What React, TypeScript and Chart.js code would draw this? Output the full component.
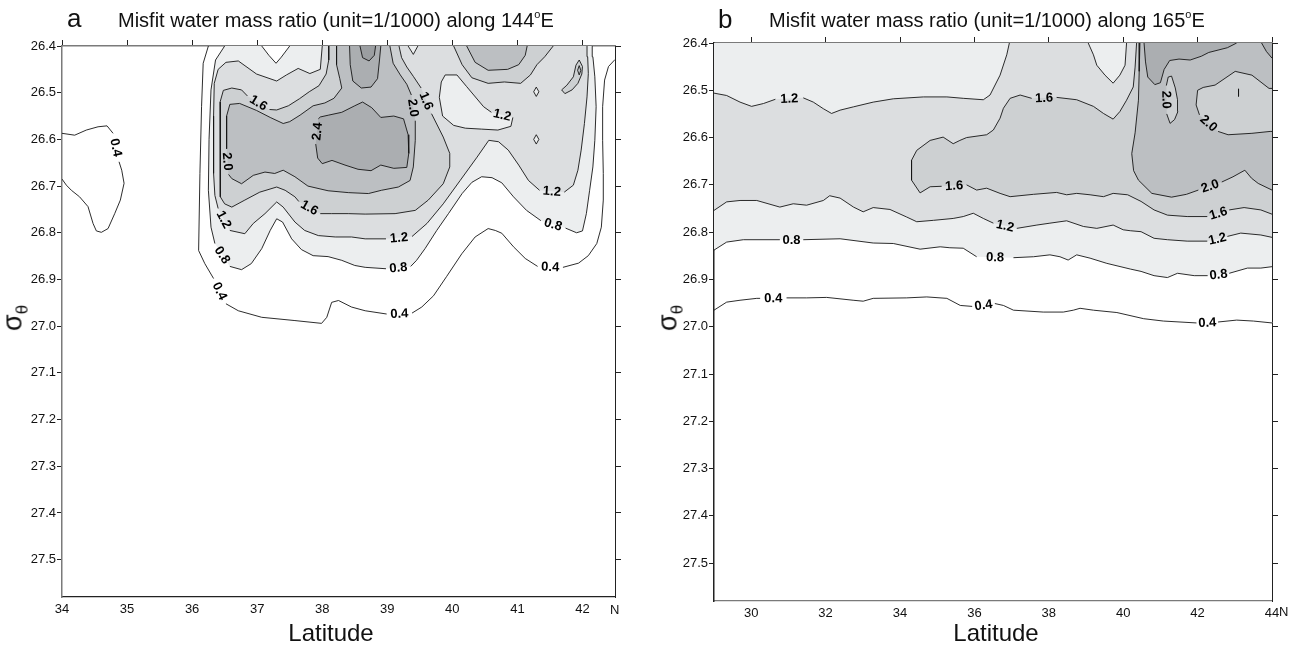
import React, { useEffect, useRef } from "react";
import { Chart, registerables } from "chart.js";

Chart.register(...registerables);

type Pt = [number, number] | null;

const FONT = '"Liberation Sans", Arial, Helvetica, sans-serif';

// ---------------- axes ----------------
const sigmaMin = 26.4;
const sigmaMax = 27.58;
const sigmaTicks = [26.4, 26.5, 26.6, 26.7, 26.8, 26.9, 27.0, 27.1, 27.2, 27.3, 27.4, 27.5];
const aLatMin = 34;
const aLatMax = 42.5;
const aLatTicks = [34, 35, 36, 37, 38, 39, 40, 41, 42];
const bLatMin = 29;
const bLatMax = 44;
const bLatTicks = [30, 32, 34, 36, 38, 40, 42, 44];

// ---------------- shading per contour interval ----------------
const C08 = "#eceeef";
const C12 = "#dcdee0";
const C16 = "#cdd0d2";
const C20 = "#bcbfc2";
const C24 = "#abaeb1";
const C28 = "#9b9ea1";
const CW = "#ffffff";

// ---------------- panel a: 144E contours [lat, sigma]; null = label gap ----------------
const a04Left: Pt[] = [[34.0, 26.587], [34.195, 26.591], [34.374, 26.58], [34.554, 26.573], [34.692, 26.571], [34.785, 26.587], null, [34.877, 26.648], [34.918, 26.666], [34.954, 26.694], [34.897, 26.73], [34.81, 26.759], [34.708, 26.791], [34.605, 26.799], [34.528, 26.796], [34.477, 26.78], [34.4, 26.744], [34.27, 26.723], [34.144, 26.709], [34.067, 26.698], [34.0, 26.685]];
const a04Main: Pt[] = [[36.25, 26.4], [36.17, 26.437], [36.145, 26.53], [36.12, 26.673], [36.1, 26.838], [36.195, 26.866], [36.33, 26.898], null, [36.52, 26.952], [36.71, 26.967], [37.07, 26.981], [37.58, 26.988], [37.99, 26.994], [38.07, 26.981], [38.145, 26.949], [38.25, 26.945], [38.45, 26.959], [38.66, 26.967], [38.99, 26.974], null, [39.38, 26.972], [39.53, 26.959], [39.71, 26.935], [39.91, 26.894], [40.145, 26.845], [40.35, 26.809], [40.55, 26.791], [40.66, 26.795], [40.76, 26.801], [40.94, 26.83], [41.12, 26.855], [41.31, 26.872], null, [41.7, 26.874], [41.94, 26.865], [42.09, 26.849], [42.22, 26.823], [42.29, 26.788], [42.32, 26.73], [42.32, 26.673], [42.31, 26.602], [42.31, 26.53], [42.34, 26.473], [42.4, 26.444], [42.48, 26.432], [42.5, 26.429]];
const a08Main: Pt[] = [[36.5, 26.4], [36.36, 26.43], [36.29, 26.494], [36.26, 26.6], [36.25, 26.709], [36.29, 26.788], [36.35, 26.823], null, [36.58, 26.872], [36.76, 26.879], [36.91, 26.866], [37.07, 26.834], [37.2, 26.795], [37.3, 26.77], [37.39, 26.777], [37.53, 26.813], [37.68, 26.836], [37.86, 26.849], [38.09, 26.851], [38.3, 26.859], [38.5, 26.87], [38.66, 26.874], [38.98, 26.877], null, [39.36, 26.872], [39.45, 26.859], [39.58, 26.834], [39.76, 26.795], [39.94, 26.759], [40.15, 26.716], [40.3, 26.692], [40.45, 26.68], [40.61, 26.682], [40.76, 26.693], [40.94, 26.723], [41.14, 26.752], [41.36, 26.774], null, [41.74, 26.79], [41.91, 26.8], [42.0, 26.796], [42.06, 26.759], [42.11, 26.709], [42.16, 26.659], [42.19, 26.602], [42.21, 26.53], [42.19, 26.466], [42.16, 26.423], [42.15, 26.4]];
const a08Notch: Pt[] = [[37.07, 26.4], [37.18, 26.42], [37.29, 26.437], [37.37, 26.424], [37.5, 26.4]];
const a12Main: Pt[] = [[38.0, 26.4], [37.97, 26.45], [37.81, 26.459], [37.63, 26.448], [37.45, 26.462], [37.3, 26.475], [36.99, 26.46], [36.71, 26.432], [36.52, 26.435], [36.4, 26.45], [36.34, 26.48], [36.33, 26.55], [36.33, 26.673], [36.35, 26.72], [36.4, 26.748], null, [36.58, 26.795], [36.81, 26.802], [36.94, 26.78], [37.12, 26.759], [37.3, 26.734], [37.4, 26.745], [37.58, 26.777], [37.73, 26.795], [37.94, 26.806], [38.2, 26.809], [38.45, 26.809], [38.66, 26.813], [38.98, 26.813], null, [39.38, 26.808], [39.61, 26.78], [39.86, 26.738], [40.12, 26.688], [40.38, 26.638], [40.56, 26.602], [40.71, 26.605], [40.86, 26.623], [41.02, 26.655], [41.17, 26.688], [41.34, 26.709], null, [41.72, 26.713], [41.86, 26.698], [41.93, 26.666], [41.98, 26.623], [42.03, 26.566], [42.07, 26.509], [42.09, 26.459], [42.08, 26.423], [42.07, 26.4]];
const a12Hole: Pt[] = [[39.89, 26.462], [40.07, 26.462], [40.22, 26.487], [40.48, 26.53], [40.6, 26.542], null, [40.93, 26.553], [40.9, 26.572], [40.7, 26.58], [40.45, 26.578], [40.2, 26.576], [40.02, 26.57], [39.85, 26.55], [39.8, 26.51], [39.83, 26.477], [39.89, 26.462]];
const a12Notch: Pt[] = [[39.32, 26.4], [39.4, 26.418], [39.47, 26.4]];
const a12Dia1: Pt[] = [[41.29, 26.488], [41.33, 26.498], [41.29, 26.508], [41.25, 26.498], [41.29, 26.488]];
const a12Dia2: Pt[] = [[41.29, 26.59], [41.33, 26.6], [41.29, 26.61], [41.25, 26.6], [41.29, 26.59]];
const a16Main: Pt[] = [[38.1, 26.4], [38.1, 26.43], [38.06, 26.46], [37.95, 26.485], [37.8, 26.498], [37.65, 26.513], [37.48, 26.528], [37.3, 26.537], [37.19, 26.536], null, [36.85, 26.507], [36.76, 26.494], [36.61, 26.49], [36.48, 26.495], [36.43, 26.52], [36.43, 26.56], [36.43, 26.673], [36.44, 26.723], [36.5, 26.738], [36.61, 26.745], [36.81, 26.73], [37.04, 26.713], [37.3, 26.702], [37.43, 26.709], [37.58, 26.723], [37.64, 26.733], null, [37.97, 26.759], [38.14, 26.759], [38.4, 26.759], [38.66, 26.76], [39.12, 26.759], [39.43, 26.752], [39.63, 26.73], [39.86, 26.695], [39.96, 26.659], [39.96, 26.63], [39.86, 26.595], [39.68, 26.545], null, [39.52, 26.49], [39.4, 26.465], [39.3, 26.445], [39.22, 26.425], [39.18, 26.4]];
const a16Ur: Pt[] = [[40.02, 26.4], [40.15, 26.44], [40.3, 26.468], [40.55, 26.48], [40.8, 26.477], [41.05, 26.48], [41.2, 26.462], [41.3, 26.44], [41.42, 26.423], [41.55, 26.4]];
const a16Blob: Pt[] = [[41.95, 26.43], [42.0, 26.444], [41.99, 26.46], [41.93, 26.48], [41.84, 26.494], [41.73, 26.502], [41.68, 26.494], [41.76, 26.484], [41.86, 26.466], [41.9, 26.441], [41.95, 26.43]];
const a20Main: Pt[] = [[38.22, 26.4], [38.22, 26.44], [38.27, 26.47], [38.3, 26.49], [38.18, 26.512], [38.04, 26.522], [37.86, 26.528], [37.66, 26.548], [37.5, 26.562], [37.4, 26.566], [37.2, 26.553], [36.99, 26.538], [36.73, 26.523], [36.58, 26.525], [36.53, 26.55], [36.53, 26.62], null, [36.56, 26.675], [36.61, 26.684], [36.76, 26.695], [36.94, 26.677], [37.12, 26.67], [37.27, 26.673], [37.4, 26.666], [37.58, 26.68], [37.78, 26.7], [38.09, 26.71], [38.4, 26.714], [38.71, 26.716], [38.91, 26.709], [39.17, 26.702], [39.35, 26.688], [39.4, 26.659], [39.43, 26.602], [39.43, 26.56], null, [39.37, 26.505], [39.3, 26.482], [39.2, 26.462], [39.09, 26.437], [39.04, 26.4]];
const a20Ur: Pt[] = [[40.22, 26.4], [40.35, 26.435], [40.55, 26.452], [40.85, 26.45], [41.02, 26.44], [41.12, 26.42], [41.15, 26.4]];
const a20Dia: Pt[] = [[41.95, 26.442], [41.975, 26.452], [41.95, 26.462], [41.925, 26.452], [41.95, 26.442]];
const a24Main: Pt[] = [[37.94, 26.556], [37.97, 26.552], [38.1, 26.548], [38.3, 26.542], [38.5, 26.528], [38.62, 26.52], [38.76, 26.532], [38.9, 26.553], [39.1, 26.55], [39.25, 26.556], [39.32, 26.59], [39.33, 26.63], [39.3, 26.66], [39.1, 26.662], [38.9, 26.655], [38.75, 26.667], [38.55, 26.664], [38.35, 26.655], [38.15, 26.645], [38.0, 26.652], [37.93, 26.64], [37.9, 26.61], null, [37.94, 26.556]];
const a24Col: Pt[] = [[38.42, 26.4], [38.43, 26.44], [38.47, 26.475], [38.6, 26.49], [38.75, 26.488], [38.85, 26.47], [38.88, 26.43], [38.9, 26.4]];
const a28Col: Pt[] = [[38.58, 26.4], [38.62, 26.425], [38.72, 26.432], [38.8, 26.42], [38.82, 26.4]];

// ---------------- panel b: 165E contours ----------------
const b04: Pt[] = [[29.0, 26.965], [29.34, 26.948], [29.7, 26.944], [30.15, 26.94], [30.24, 26.94], null, [30.95, 26.939], [31.49, 26.939], [32.03, 26.938], [32.74, 26.944], [33.01, 26.946], [33.28, 26.94], [34.18, 26.939], [34.72, 26.937], [35.26, 26.94], [35.62, 26.955], [35.94, 26.957], null, [36.55, 26.951], [36.78, 26.955], [37.05, 26.965], [37.85, 26.969], [38.39, 26.969], [38.66, 26.965], [38.84, 26.961], [39.2, 26.965], [39.83, 26.97], [40.55, 26.983], [41.08, 26.988], [41.97, 26.992], null, [42.55, 26.99], [43.05, 26.986], [43.5, 26.988], [44.0, 26.992]];
const b08: Pt[] = [[29.0, 26.838], [29.34, 26.821], [29.79, 26.816], [30.77, 26.816], null, [31.4, 26.816], [32.39, 26.814], [33.28, 26.823], [33.82, 26.824], [34.54, 26.836], [35.08, 26.831], [35.34, 26.833], [35.7, 26.834], [36.06, 26.852], null, [37.05, 26.854], [37.59, 26.852], [38.03, 26.848], [38.3, 26.852], [38.52, 26.859], [38.75, 26.848], [39.11, 26.855], [39.56, 26.866], [40.19, 26.878], [40.48, 26.883], [40.83, 26.892], [41.19, 26.896], [41.46, 26.887], [41.91, 26.892], [42.27, 26.892], null, [42.85, 26.887], [43.34, 26.876], [43.7, 26.876], [44.0, 26.873]];
const b12Low: Pt[] = [[29.0, 26.754], [29.34, 26.736], [29.7, 26.733], [30.15, 26.733], [30.77, 26.747], [31.13, 26.74], [31.49, 26.743], [31.94, 26.733], [32.11, 26.723], [32.39, 26.728], [32.75, 26.747], [33.01, 26.757], [33.28, 26.748], [33.73, 26.752], [34.18, 26.768], [34.45, 26.778], [34.9, 26.775], [35.43, 26.771], [35.7, 26.767], [35.97, 26.76], [36.24, 26.771], [36.51, 26.781], null, [37.14, 26.792], [37.68, 26.785], [38.03, 26.781], [38.48, 26.776], [38.93, 26.788], [39.29, 26.792], [39.73, 26.785], [40.0, 26.795], [40.19, 26.797], [40.48, 26.799], [40.83, 26.813], [41.19, 26.816], [41.72, 26.819], [42.26, 26.819], null, [42.8, 26.809], [43.16, 26.802], [43.7, 26.806], [44.0, 26.811]];
const b12UL: Pt[] = [[29.0, 26.506], [29.34, 26.511], [29.7, 26.525], [30.01, 26.534], [30.33, 26.528], [30.65, 26.519], null, [31.4, 26.516], [31.67, 26.525], [31.94, 26.539], [32.16, 26.549], [32.39, 26.542], [32.75, 26.535], [33.28, 26.525], [33.82, 26.518], [34.63, 26.514], [35.26, 26.514], [35.7, 26.517], [36.24, 26.52], [36.42, 26.51], [36.69, 26.468], [36.87, 26.425], [36.94, 26.4]];
const b12Notch: Pt[] = [[39.06, 26.4], [39.2, 26.425], [39.29, 26.447], [39.51, 26.468], [39.73, 26.485], [39.91, 26.468], [40.05, 26.447], [40.09, 26.4]];
const b16: Pt[] = [[40.36, 26.4], [40.32, 26.451], [40.27, 26.493], [40.09, 26.521], [39.91, 26.545], [39.73, 26.561], [39.47, 26.549], [39.2, 26.534], [38.75, 26.52], [38.21, 26.515], null, [37.54, 26.517], [37.23, 26.51], [36.96, 26.517], [36.78, 26.538], [36.69, 26.559], [36.51, 26.584], [36.33, 26.594], [35.79, 26.6], [35.61, 26.606], [35.43, 26.613], [35.16, 26.599], [34.81, 26.606], [34.45, 26.627], [34.31, 26.648], [34.31, 26.69], [34.54, 26.717], [34.81, 26.704], [35.12, 26.703], null, [35.79, 26.7], [36.06, 26.711], [36.33, 26.707], [36.69, 26.718], [36.96, 26.725], [37.59, 26.72], [38.21, 26.716], [38.48, 26.721], [38.75, 26.718], [39.11, 26.721], [39.47, 26.725], [39.73, 26.718], [40.12, 26.721], [40.48, 26.735], [40.83, 26.753], [41.19, 26.764], [41.72, 26.767], [42.26, 26.767], null, [42.85, 26.753], [43.25, 26.748], [43.7, 26.753], [44.0, 26.762]];
const b20: Pt[] = [[40.45, 26.4], [40.43, 26.46], [40.41, 26.521], [40.32, 26.59], [40.23, 26.634], [40.28, 26.67], [40.41, 26.69], [40.77, 26.718], [41.3, 26.726], [41.7, 26.72], [42.02, 26.711], null, [42.65, 26.694], [42.95, 26.683], [43.27, 26.669], [43.45, 26.686], [43.63, 26.697], [44.0, 26.711]];
const b20Min1: Pt[] = [[41.17, 26.55], [41.26, 26.57], [41.38, 26.562], [41.47, 26.545], [41.46, 26.52], [41.4, 26.495], [41.3, 26.47], [41.21, 26.472], [41.16, 26.49], null, [41.17, 26.55]];
const b20Min2: Pt[] = [[44.0, 26.496], [43.92, 26.496], [43.46, 26.468], [43.01, 26.46], [42.47, 26.489], [42.15, 26.494], [42.0, 26.5], [41.96, 26.531], [42.05, 26.552], null, [42.55, 26.587], [42.82, 26.594], [43.46, 26.591], [43.95, 26.587], [44.0, 26.587]];
const b24: Pt[] = [[40.56, 26.4], [40.6, 26.44], [40.66, 26.472], [40.85, 26.488], [41.0, 26.484], [41.1, 26.456], [41.25, 26.437], [41.5, 26.434], [41.8, 26.436], [42.1, 26.428], [42.3, 26.42], [42.55, 26.415], [42.8, 26.41], [43.05, 26.4]];
const b24Corner: Pt[] = [[43.72, 26.4], [43.85, 26.418], [44.0, 26.432]];
const bTick: Pt[] = [[43.1, 26.497], [43.1, 26.513]];

// ---------------- definitions ----------------
interface LineDef { pts: Pt[]; level: string }
interface FillDef { pts: Pt[]; color: string; extra?: [number, number][] }
interface PanelDef {
  latMin: number; latMax: number; latTicks: number[]; topTicks: number[];
  fills: FillDef[]; lines: LineDef[];
  padding: { top: number; left: number; right: number; bottom: number };
  yWidth: number;
  leftBorder: string; topBorder: string; bottomBorder: string; rightBorder: string;
}

const panelA: PanelDef = {
  latMin: aLatMin, latMax: aLatMax, latTicks: aLatTicks, topTicks: aLatTicks,
  fills: [
    { pts: a08Main, color: C08 }, { pts: a08Notch, color: CW },
    { pts: a12Main, color: C12 }, { pts: a12Hole, color: C08 }, { pts: a12Notch, color: C08 },
    { pts: a12Dia1, color: C08 }, { pts: a12Dia2, color: C08 },
    { pts: a16Main, color: C16 }, { pts: a16Ur, color: C16 }, { pts: a16Blob, color: C16 },
    { pts: a20Main, color: C20 }, { pts: a20Ur, color: C20 }, { pts: a20Dia, color: C20 },
    { pts: a24Main, color: C24 }, { pts: a24Col, color: C24 }, { pts: a28Col, color: C28 },
  ],
  lines: [
    { pts: a04Left, level: "0.4" }, { pts: a04Main, level: "0.4" },
    { pts: a08Main, level: "0.8" }, { pts: a08Notch, level: "0.8" },
    { pts: a12Main, level: "1.2" }, { pts: a12Hole, level: "1.2" }, { pts: a12Notch, level: "1.2" },
    { pts: a12Dia1, level: "1.2" }, { pts: a12Dia2, level: "1.2" },
    { pts: a16Main, level: "1.6" }, { pts: a16Ur, level: "1.6" }, { pts: a16Blob, level: "1.6" },
    { pts: a20Main, level: "2.0" }, { pts: a20Ur, level: "2.0" }, { pts: a20Dia, level: "2.0" },
    { pts: a24Main, level: "2.4" }, { pts: a24Col, level: "2.4" }, { pts: a28Col, level: "2.8" },
  ],
  padding: { top: 38, left: 0, right: 22, bottom: 14 },
  yWidth: 62,
  leftBorder: "#7a7a7a", topBorder: "#7a7a7a", bottomBorder: "#222", rightBorder: "#222",
};

const panelB: PanelDef = {
  latMin: bLatMin, latMax: bLatMax, latTicks: bLatTicks, topTicks: bLatTicks,
  fills: [
    { pts: b08, color: C08, extra: [[bLatMax, sigmaMin], [bLatMin, sigmaMin]] },
    { pts: b12Low, color: C12, extra: [[bLatMax, sigmaMin], [bLatMin, sigmaMin]] },
    { pts: b12UL, color: C08, extra: [[bLatMin, sigmaMin]] },
    { pts: b12Notch, color: C08 },
    { pts: b16, color: C16, extra: [[bLatMax, sigmaMin]] },
    { pts: b20, color: C20, extra: [[bLatMax, sigmaMin]] },
    { pts: b20Min1, color: C16 }, { pts: b20Min2, color: C16 },
    { pts: b24, color: C24 }, { pts: b24Corner, color: C24, extra: [[bLatMax, sigmaMin]] },
  ],
  lines: [
    { pts: b04, level: "0.4" }, { pts: b08, level: "0.8" },
    { pts: b12Low, level: "1.2" }, { pts: b12UL, level: "1.2" }, { pts: b12Notch, level: "1.2" },
    { pts: b16, level: "1.6" }, { pts: b20, level: "2.0" },
    { pts: b20Min1, level: "2.0" }, { pts: b20Min2, level: "2.0" },
    { pts: b24, level: "2.4" }, { pts: b24Corner, level: "2.4" }, { pts: bTick, level: "2.0" },
  ],
  padding: { top: 35, left: 0, right: 23, bottom: 10 },
  yWidth: 64,
  leftBorder: "#222", topBorder: "#7a7a7a", bottomBorder: "#7a7a7a", rightBorder: "#222",
};

// ---------------- helpers ----------------
function toXY(pts: Pt[]) {
  return pts.map((p) => (p ? { x: p[0], y: p[1] } : { x: null, y: null }));
}
function polygon(pts: Pt[], extra: [number, number][] = []) {
  const out = (pts.filter((p) => p !== null) as [number, number][]).concat(extra);
  return out.map((p) => ({ x: p[0], y: p[1] }));
}

function labelPlugin(lines: LineDef[]) {
  return {
    id: "contourLabels",
    afterDatasetsDraw(chart: any) {
      const ctx = chart.ctx;
      const xs = chart.scales.x;
      const ys = chart.scales.y;
      ctx.save();
      ctx.font = `bold 13px ${FONT}`;
      ctx.fillStyle = "#000";
      ctx.textAlign = "center";
      ctx.textBaseline = "middle";
      for (const ln of lines) {
        const p = ln.pts;
        for (let i = 1; i < p.length - 1; i++) {
          if (p[i] !== null) continue;
          const a = p[i - 1];
          const b = p[i + 1];
          if (!a || !b) continue;
          const ax = xs.getPixelForValue(a[0]);
          const ay = ys.getPixelForValue(a[1]);
          const bx = xs.getPixelForValue(b[0]);
          const by = ys.getPixelForValue(b[1]);
          let ang = Math.atan2(by - ay, bx - ax);
          if (ang > Math.PI / 2) ang -= Math.PI;
          if (ang < -Math.PI / 2) ang += Math.PI;
          ctx.save();
          ctx.translate((ax + bx) / 2, (ay + by) / 2);
          ctx.rotate(ang);
          ctx.fillText(ln.level, 0, 0.5);
          ctx.restore();
        }
      }
      ctx.restore();
    },
  };
}

function buildConfig(def: PanelDef): any {
  const datasets: any[] = [];
  def.fills.forEach((f, i) => {
    datasets.push({
      data: polygon(f.pts, f.extra),
      fill: "shape",
      backgroundColor: f.color,
      borderColor: "rgba(0,0,0,0)",
      borderWidth: 0,
      pointRadius: 0,
      pointHitRadius: 0,
      tension: 0,
      order: 1000 - i,
    });
  });
  def.lines.forEach((l) => {
    datasets.push({
      data: toXY(l.pts),
      fill: false,
      borderColor: "#151515",
      borderWidth: 0.9,
      pointRadius: 0,
      pointHitRadius: 0,
      tension: 0,
      spanGaps: false,
      order: 0,
    });
  });
  const tickFont = { family: FONT, size: 13 };
  const setTicks = (vals: number[]) => (s: any) => {
    s.ticks = vals.map((v) => ({ value: v }));
  };
  return {
    type: "line",
    data: { datasets },
    options: {
      responsive: false,
      animation: false,
      devicePixelRatio: 1,
      events: [],
      layout: { padding: def.padding },
      plugins: { legend: { display: false }, tooltip: { enabled: false }, title: { display: false } },
      scales: {
        x: {
          type: "linear", position: "bottom", min: def.latMin, max: def.latMax,
          afterBuildTicks: setTicks(def.latTicks),
          afterFit: (s: any) => { s.height = 40; },
          grid: { display: true, drawOnChartArea: false, drawTicks: false },
          border: { display: true, color: def.bottomBorder, width: 1.3 },
          ticks: { font: tickFont, color: "#111", padding: 5, maxRotation: 0, autoSkip: false, callback: (v: any) => String(v) },
        },
        xT: {
          type: "linear", position: "top", min: def.latMin, max: def.latMax,
          afterBuildTicks: setTicks(def.topTicks),
          afterFit: (s: any) => { s.height = 8; },
          grid: { display: true, drawOnChartArea: false, drawTicks: true, tickLength: 6, color: "#222" },
          border: { display: true, color: def.topBorder, width: 1.5 },
          ticks: { display: false },
        },
        y: {
          type: "linear", position: "left", reverse: true, min: sigmaMin, max: sigmaMax,
          afterBuildTicks: setTicks(sigmaTicks),
          afterFit: (s: any) => { s.width = def.yWidth; },
          grid: { display: true, drawOnChartArea: false, drawTicks: true, tickLength: 5, color: "#222" },
          border: { display: true, color: def.leftBorder, width: 1.5 },
          ticks: { font: tickFont, color: "#111", padding: 1, autoSkip: false, callback: (v: any) => Number(v).toFixed(1) },
        },
        yR: {
          type: "linear", position: "right", reverse: true, min: sigmaMin, max: sigmaMax,
          afterBuildTicks: setTicks(sigmaTicks),
          afterFit: (s: any) => { s.width = 8; },
          grid: { display: true, drawOnChartArea: false, drawTicks: true, tickLength: 6, color: "#222" },
          border: { display: true, color: def.rightBorder, width: 1 },
          ticks: { display: false },
        },
      },
    },
    plugins: [labelPlugin(def.lines)],
  };
}

function Panel({ def, left, width }: { def: PanelDef; left: number; width: number }) {
  const ref = useRef<HTMLCanvasElement>(null);
  useEffect(() => {
    const chart = new Chart(ref.current as HTMLCanvasElement, buildConfig(def));
    return () => chart.destroy();
  }, [def]);
  return (
    <canvas
      ref={ref}
      width={width}
      height={651}
      style={{ position: "absolute", left, top: 0, width, height: 651, display: "block" }}
    />
  );
}

function T({ left, top, size, children, center, style }: any) {
  return (
    <div
      style={{
        position: "absolute", left, top, fontSize: size, lineHeight: 1, whiteSpace: "nowrap",
        fontFamily: FONT, color: "#111", transform: center ? "translateX(-50%)" : undefined, ...style,
      }}
    >
      {children}
    </div>
  );
}

function SigmaTheta({ x, y }: { x: number; y: number }) {
  return (
    <div
      style={{
        position: "absolute", left: x, top: y, transform: "translate(-50%,-50%) rotate(-90deg)",
        fontFamily: FONT, fontSize: 27, lineHeight: 1, whiteSpace: "nowrap", color: "#111",
      }}
    >
      σ<span style={{ fontSize: 17, position: "relative", top: 6 }}>θ</span>
    </div>
  );
}

export default function App() {
  return (
    <div
      style={{
        position: "absolute", left: 0, top: 0, width: 1303, height: 651, background: "#fff",
        overflow: "hidden", fontFamily: FONT,
      }}
    >
      <Panel def={panelA} left={0} width={645} />
      <Panel def={panelB} left={650} width={653} />

      <T left={67} top={5} size={26}>a</T>
      <T left={118} top={10} size={20}>
        Misfit water mass ratio (unit=1/1000) along 144<span style={{ fontSize: 11, position: "relative", top: -9 }}>o</span>E
      </T>
      <T left={718} top={6} size={26}>b</T>
      <T left={769} top={10} size={20}>
        Misfit water mass ratio (unit=1/1000) along 165<span style={{ fontSize: 11, position: "relative", top: -9 }}>o</span>E
      </T>

      <SigmaTheta x={13} y={318} />
      <SigmaTheta x={668} y={318} />

      <T left={331} top={621} size={24} center>Latitude</T>
      <T left={996} top={621} size={24} center>Latitude</T>

      <T left={610} top={603} size={13}>N</T>
      <T left={1279} top={605} size={13}>N</T>
    </div>
  );
}
